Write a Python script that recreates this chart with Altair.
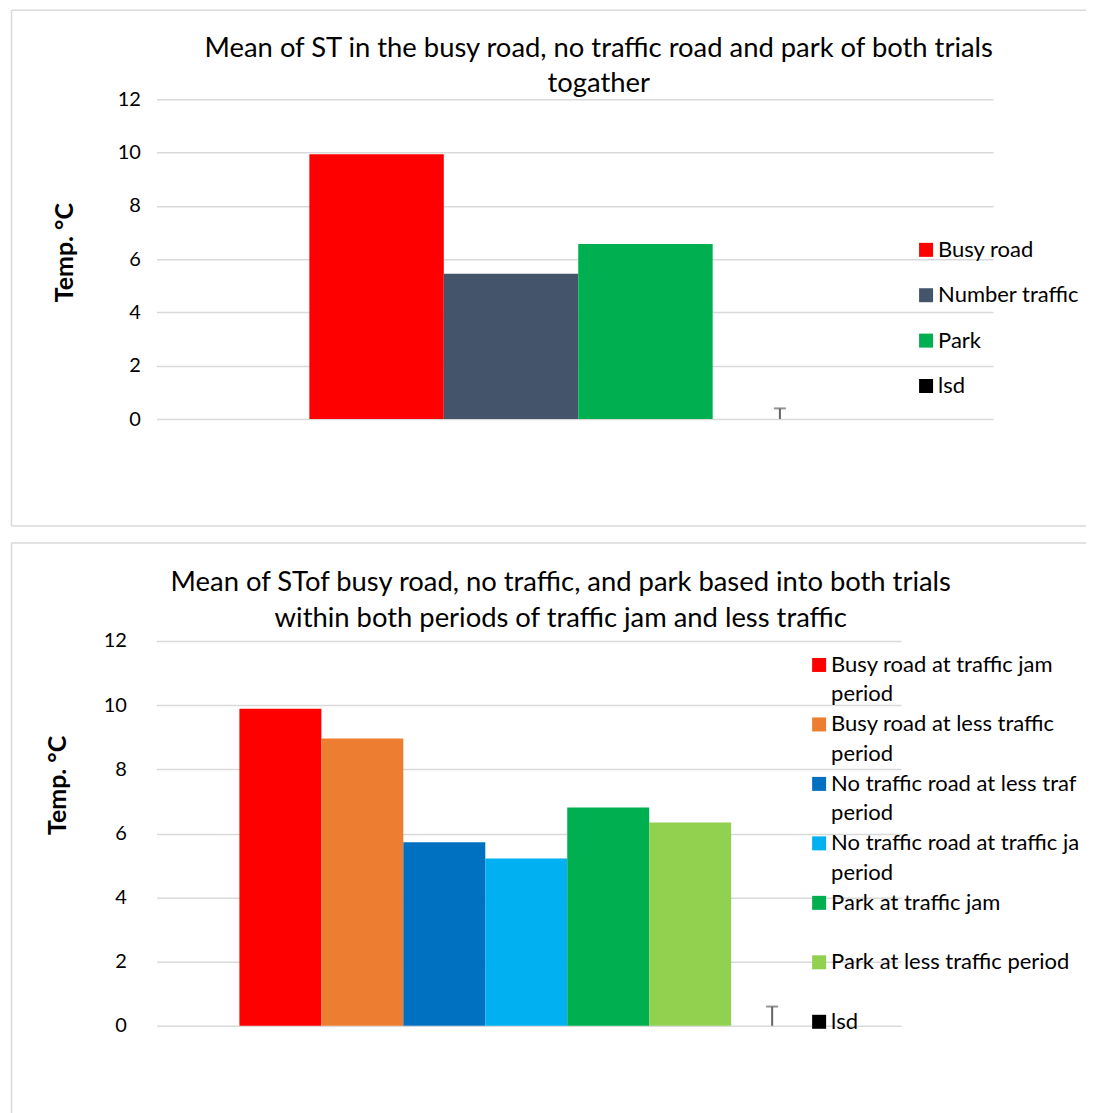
import altair as alt
import pandas as pd

# ---------------- data ----------------
top_series = ["Busy road", "Number traffic", " Park", "lsd"]
top_values = [9.94, 5.45, 6.57, 0.0]
top_colors = ["#ff0000", "#44546a", "#00b050", "#000000"]
top_lsd = 0.4
top_title = ["Mean of ST in the busy road, no traffic road and park of both trials", "togather"]

bot_series = [
    "Busy road at traffic jam period",
    "Busy road at less traffic period",
    "No traffic road at less traffic period",
    "No traffic road at traffic jam period",
    "Park at traffic jam",
    "Park at less traffic period",
    "lsd",
]
bot_values = [9.89, 8.96, 5.72, 5.22, 6.81, 6.34, 0.0]
bot_colors = ["#ff0000", "#ed7d31", "#0070c0", "#00b0f0", "#00b050", "#92d050", "#000000"]
bot_lsd = 0.6
bot_title = ["Mean of STof busy road, no traffic, and park based into both trials",
             "within both periods of traffic jam and less traffic"]

y_ticks = [0, 2, 4, 6, 8, 10, 12]
y_title = "Temp. °C"

FONT = "Lato"
GRID = "#d9d9d9"
ERR = "#666666"


def frame_lines(left, top, right, bottom, with_bottom):
    one = alt.Data(values=[{}])
    parts = [
        alt.Chart(one).mark_rule(color=GRID, strokeWidth=1.5, clip=False).encode(
            x=alt.value(left), x2=alt.value(right), y=alt.value(top)),
        alt.Chart(one).mark_rule(color=GRID, strokeWidth=1.5, clip=False).encode(
            x=alt.value(left), y=alt.value(top), y2=alt.value(bottom)),
    ]
    if with_bottom:
        parts.append(alt.Chart(one).mark_rule(color=GRID, strokeWidth=1.5, clip=False).encode(
            x=alt.value(left), x2=alt.value(right), y=alt.value(bottom)))
    return parts


def panel(series, values, colors, lsd, title, w, h, pad_outer, band_align, frame,
          title_dx, title_offset, title_lh, label_pad, ytitle_x, ytitle_y, legend):
    df = pd.DataFrame({"series": series, "value": values})
    err = pd.DataFrame({"series": ["lsd"], "lo": [0.0], "hi": [lsd]})
    # one empty category slot on each side of the cluster (Excel gap width)
    x_domain = ["(gap-left)"] + series + ["(gap-right)"]

    xenc = alt.X("series:N", sort=series,
                 scale=alt.Scale(domain=x_domain, paddingInner=0, paddingOuter=pad_outer,
                                 align=band_align),
                 axis=None)
    yscale = alt.Scale(domain=[0, 12], nice=False)

    bars = alt.Chart(df).mark_bar().encode(
        x=xenc,
        y=alt.Y("value:Q", scale=yscale,
                axis=alt.Axis(values=y_ticks, grid=True, gridColor=GRID, gridWidth=1.5,
                              domain=False, ticks=False, labelPadding=label_pad,
                              labelFont=FONT, labelFontSize=20, labelColor="black",
                              title=y_title, titleFont=FONT, titleFontSize=25,
                              titleFontWeight="bold", titleColor="black",
                              titleAngle=270, titleBaseline="middle",
                              titleX=ytitle_x, titleY=ytitle_y)),
        color=alt.Color("series:N", sort=series,
                        scale=alt.Scale(domain=series, range=colors),
                        legend=legend),
    )

    rule = alt.Chart(err).mark_rule(color=ERR, strokeWidth=2).encode(
        x=xenc, y=alt.Y("lo:Q", scale=yscale), y2="hi:Q")
    cap = alt.Chart(err).mark_tick(color=ERR, thickness=2, size=12, orient="horizontal").encode(
        x=xenc, y=alt.Y("hi:Q", scale=yscale))

    return alt.layer(*frame_lines(*frame), bars, rule, cap).properties(
        width=w, height=h,
        title=alt.TitleParams(text=title, font=FONT, fontSize=27.4, fontWeight="normal",
                              color="black", lineHeight=title_lh, anchor="middle",
                              baseline="top", dx=title_dx, offset=title_offset),
    )


top_legend = alt.Legend(
    title=None, orient="none", legendX=759, legendY=139.7, padding=0,
    symbolType="square", symbolSize=196, symbolStrokeWidth=0, symbolOffset=0,
    labelFont=FONT, labelFontSize=22, labelColor="black", labelOffset=1,
    labelLimit=500, rowPadding=23.4,
)

bot_legend = alt.Legend(
    title=None, orient="none", legendX=652, legendY=13, padding=0,
    symbolType="square", symbolSize=196, symbolStrokeWidth=0, symbolOffset=0,
    labelFont=FONT, labelFontSize=22, labelColor="black", labelOffset=1,
    labelLimit=250, rowPadding=7.5, labelBaseline="middle",
    labelExpr="length(datum.label) > 28 ? [slice(datum.label, 0, length(datum.label) - 7), 'period'] : [datum.label, ' ']",
)

top = panel(top_series, top_values, top_colors, top_lsd, top_title,
            837, 320, 0.1115, 0.6167, (-145, -89, 930, 427, True),
            24, -87.5, 35, 16, -91.5, 153, top_legend)
bot = panel(bot_series, bot_values, bot_colors, bot_lsd, bot_title,
            745, 385, 0.0427, 0.143, (-145, -98, 930, 487, False),
            32, -90.5, 36, 30, -99, 144, bot_legend)

chart = alt.vconcat(top, bot, spacing=13).resolve_scale(
    color="independent", x="independent", y="independent"
).resolve_legend(color="independent").properties(
    padding={"left": 1.5, "top": 0, "right": 0, "bottom": 0}
).configure(
    view=alt.ViewConfig(stroke="transparent"),
    style={"guide-label": {"lineHeight": 29.5, "ellipsis": "\u200b"}},
)

chart.save("out.html", embed_options={"renderer": "svg", "actions": False})
